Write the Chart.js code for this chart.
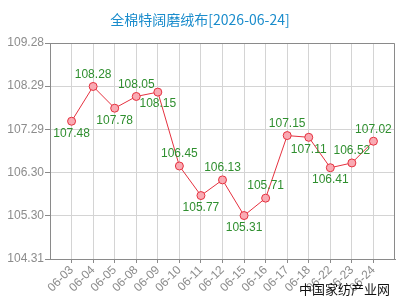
<!DOCTYPE html>
<html>
<head>
<meta charset="utf-8">
<script src="https://cdn.jsdelivr.net/npm/chart.js@4"></script>
<style>
  html, body { margin: 0; padding: 0; background: #fff; }
  #wrap { width: 400px; height: 300px; }
</style>
</head>
<body>
<div id="wrap"><canvas id="priceChart"></canvas></div>
<script>
// --- dados ---
const titleText = '全棉特阔磨绒布[2026-06-24]';
const sourceText = '中国家纺产业网';
const dates = ['06-03', '06-04', '06-05', '06-08', '06-09', '06-10', '06-11', '06-12',
               '06-15', '06-16', '06-17', '06-18', '06-22', '06-23', '06-24'];
const prices = [107.48, 108.28, 107.78, 108.05, 108.15, 106.45, 105.77, 106.13,
                105.31, 105.71, 107.15, 107.11, 106.41, 106.52, 107.02];
const yTicks = [104.31, 105.30, 106.30, 107.29, 108.29, 109.28];
// rótulo acima (1) ou abaixo (-1) do ponto
const labelSide = [-1, 1, -1, 1, -1, 1, -1, 1, -1, 1, 1, -1, -1, 1, 1];

const gridColor = '#d4d4d4';
const axisColor = '#8a8a8a';

// desenha título, marca d'água, moldura e rótulos dos valores
const extrasPlugin = {
    id: 'extras',
    afterDatasetsDraw(chart) {
        const ctx = chart.ctx;
        const area = chart.chartArea;
        ctx.save();
        ctx.strokeStyle = axisColor;
        ctx.lineWidth = 1;
        ctx.beginPath();
        ctx.moveTo(area.left, area.top + 0.5);
        ctx.lineTo(area.right - 0.5, area.top + 0.5);
        ctx.lineTo(area.right - 0.5, area.bottom);
        ctx.stroke();

        ctx.font = '12px "Liberation Sans", Arial, sans-serif';
        ctx.fillStyle = '#2f8f2f';
        ctx.textAlign = 'center';
        ctx.textBaseline = 'middle';
        const meta = chart.getDatasetMeta(0);
        meta.data.forEach((pt, i) => {
            const dy = labelSide[i] > 0 ? -12 : 12;
            ctx.fillText(prices[i].toFixed(2), pt.x, pt.y + dy);
        });

        ctx.font = '14px "Noto Sans CJK SC", sans-serif';
        ctx.fillStyle = '#1a8ccc';
        ctx.fillText(titleText, 200, 20);

        ctx.font = '13px "Noto Sans CJK SC", sans-serif';
        ctx.fillStyle = '#111';
        ctx.textAlign = 'right';
        ctx.fillText(sourceText, 390, 289);
        ctx.restore();
    }
};

document.addEventListener('DOMContentLoaded', function () {
    const ctx = document.getElementById('priceChart').getContext('2d');
    new Chart(ctx, {
        type: 'line',
        data: {
            datasets: [{
                data: prices.map((v, i) => ({ x: i, y: v })),
                borderColor: '#e5313f',
                borderWidth: 1,
                backgroundColor: '#f9aab3',
                pointBackgroundColor: '#f9aab3',
                pointBorderColor: '#e5313f',
                pointBorderWidth: 1,
                pointRadius: 4,
                tension: 0
            }]
        },
        options: {
            responsive: true,
            maintainAspectRatio: false,
            animation: false,
            layout: { padding: { top: 43, right: 1, left: 0, bottom: 0 } },
            plugins: {
                legend: { display: false },
                tooltip: { enabled: false }
            },
            scales: {
                x: {
                    type: 'linear',
                    min: -1,
                    max: dates.length,
                    afterBuildTicks: (scale) => {
                        scale.ticks = dates.map((d, i) => ({ value: i }));
                    },
                    afterFit: (scale) => { scale.height = 41; },
                    ticks: {
                        autoSkip: false,
                        maxRotation: 45,
                        minRotation: 45,
                        padding: 0,
                        color: '#8c8c8c',
                        font: { size: 12, family: '"Liberation Sans", Arial, sans-serif' },
                        callback: (v) => dates[v] || ''
                    },
                    grid: {
                        color: gridColor,
                        borderDash: [1, 2],
                        tickColor: axisColor,
                        tickBorderDash: [],
                        tickLength: 4
                    },
                    border: { color: axisColor, dash: [] }
                },
                y: {
                    min: yTicks[0],
                    max: yTicks[yTicks.length - 1],
                    afterBuildTicks: (scale) => {
                        scale.ticks = yTicks.map(v => ({ value: v }));
                    },
                    afterFit: (scale) => { scale.width = 50; },
                    ticks: {
                        padding: 1,
                        color: '#8c8c8c',
                        font: { size: 12, family: '"Liberation Sans", Arial, sans-serif' },
                        callback: (v) => Number(v).toFixed(2)
                    },
                    grid: {
                        color: gridColor,
                        borderDash: [1, 2],
                        tickColor: axisColor,
                        tickBorderDash: [],
                        tickLength: 5
                    },
                    border: { color: axisColor }
                }
            }
        },
        plugins: [extrasPlugin]
    });
});
</script>
</body>
</html>
